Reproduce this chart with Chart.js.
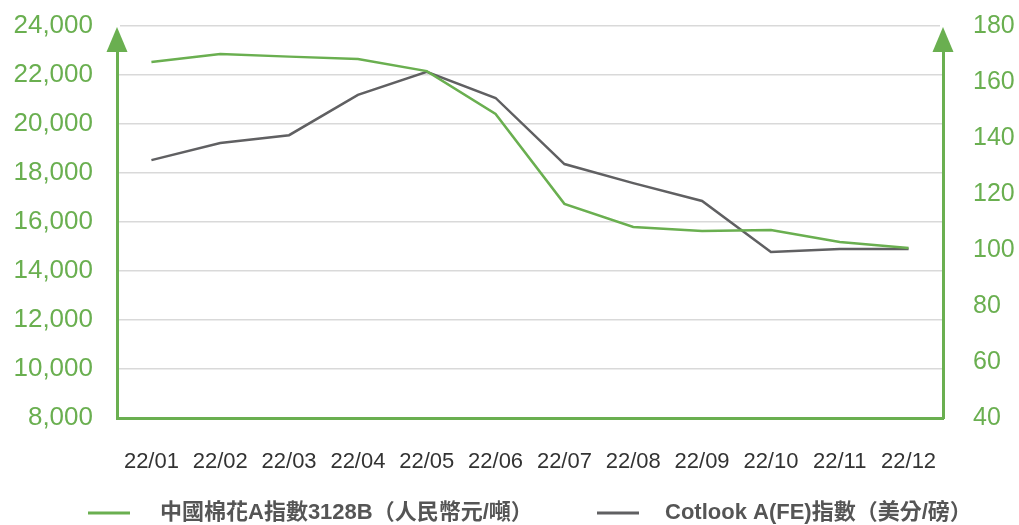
<!DOCTYPE html>
<html>
<head>
<meta charset="utf-8">
<script src="https://cdn.jsdelivr.net/npm/chart.js@4.4.1/dist/chart.umd.min.js"></script>
<style>
  html, body { margin: 0; padding: 0; background: #fff; }
  #wrap { width: 1019px; height: 525px; }
</style>
</head>
<body>
<div id="wrap"><canvas id="chart" width="1019" height="525"></canvas></div>
<script>
const months = ['22/01', '22/02', '22/03', '22/04', '22/05', '22/06', '22/07', '22/08', '22/09', '22/10', '22/11', '22/12'];
const chinaIndex = [22530, 22860, 22750, 22650, 22160, 20410, 16740, 15800, 15630, 15670, 15180, 14940];
const cotlookIndex = [132.1, 138.2, 141, 155.4, 163.6, 154.3, 130.7, 123.9, 117.5, 99.3, 100.4, 100.4];
const legendNames = ['中國棉花A指數3128B（人民幣元/噸）', 'Cotlook A(FE)指數（美分/磅）'];

const GREEN = '#6aaf50';
const GRAY = '#606062';
const FONT = '"Liberation Sans", "Noto Sans CJK TC", sans-serif';

// arrow heads on top of both y axes + hand drawn legend
const axisArrows = {
    id: 'axisArrows',
    afterDraw(chart) {
        const ctx = chart.ctx;
        const area = chart.chartArea;
        ctx.save();
        [area.left, area.right].forEach(x => {
            ctx.fillStyle = '#fff';
            ctx.fillRect(x - 3, area.top - 2, 6, 20);
            ctx.fillStyle = GREEN;
            ctx.beginPath();
            ctx.moveTo(x, area.top + 1);
            ctx.lineTo(x + 10.5, area.top + 26);
            ctx.lineTo(x - 10.5, area.top + 26);
            ctx.closePath();
            ctx.fill();
        });

        const y = 513;
        const items = [
            { x: 88, color: GREEN, text: legendNames[0], gap: 72 },
            { x: 597, color: GRAY, text: legendNames[1], gap: 68 }
        ];
        ctx.font = 'bold 22px ' + FONT;
        ctx.textBaseline = 'middle';
        items.forEach(it => {
            ctx.strokeStyle = it.color;
            ctx.lineWidth = 3;
            ctx.beginPath();
            ctx.moveTo(it.x, y);
            ctx.lineTo(it.x + 42, y);
            ctx.stroke();
            ctx.fillStyle = '#555';
            ctx.fillText(it.text, it.x + it.gap, y);
        });
        ctx.restore();
    }
};

function noVertPadding(scale) {
    scale.paddingTop = 0;
    scale.paddingBottom = 0;
}

new Chart(document.getElementById('chart'), {
    type: 'line',
    data: {
        labels: months,
        datasets: [
            {
                label: legendNames[0],
                data: chinaIndex,
                yAxisID: 'y',
                borderColor: GREEN,
                borderWidth: 2.5,
                pointRadius: 0,
                tension: 0
            },
            {
                label: legendNames[1],
                data: cotlookIndex,
                yAxisID: 'y1',
                borderColor: GRAY,
                borderWidth: 2.5,
                pointRadius: 0,
                tension: 0
            }
        ]
    },
    options: {
        responsive: false,
        animation: false,
        layout: { padding: { top: 26, bottom: 47 } },
        plugins: {
            legend: { display: false },
            tooltip: { enabled: false }
        },
        scales: {
            x: {
                offset: true,
                grid: { display: false },
                border: { color: GREEN, width: 3 },
                ticks: { color: '#333', font: { family: FONT, size: 22 }, padding: 23 },
                afterFit(scale) { scale.height = 60; scale.paddingLeft = 0; scale.paddingRight = 0; }
            },
            y: {
                position: 'left',
                min: 8000,
                max: 24000,
                grid: { color: '#d9d9d9', lineWidth: 1.5, drawTicks: false },
                border: { color: GREEN, width: 3 },
                ticks: {
                    stepSize: 2000,
                    color: GREEN,
                    padding: 24,
                    font: { family: FONT, size: 26 },
                    callback: v => v.toLocaleString('en-US')
                },
                afterFit(scale) { scale.width = 117; noVertPadding(scale); }
            },
            y1: {
                position: 'right',
                min: 40,
                max: 180,
                grid: { display: false, drawTicks: false },
                border: { color: GREEN, width: 3 },
                ticks: {
                    stepSize: 20,
                    color: GREEN,
                    padding: 30,
                    font: { family: FONT, size: 25 }
                },
                afterFit(scale) { scale.width = 76; noVertPadding(scale); }
            }
        }
    },
    plugins: [axisArrows]
});
</script>
</body>
</html>
